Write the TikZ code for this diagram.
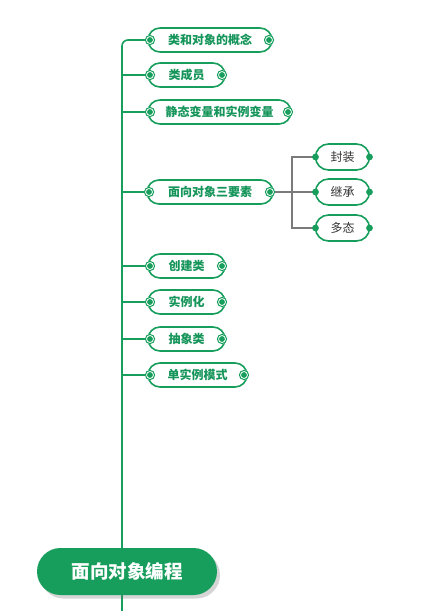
\documentclass[tikz,border=0pt]{standalone}
\usepackage{fontspec}
\setmainfont{Noto Sans CJK SC}
\usetikzlibrary{shapes.misc,backgrounds,shadows}
\definecolor{mg}{HTML}{179E5C}
\definecolor{mgt}{HTML}{15955A}
\definecolor{gl}{HTML}{7A7A7A}
\definecolor{tx}{HTML}{333333}
\tikzset{
  l1/.style={rounded rectangle, draw=mg, line width=1.6pt, fill=white, outer sep=0pt, inner sep=0pt,
    minimum height=24pt, font=\fontsize{12}{14}\selectfont\bfseries, text=mgt},
  l2/.style={rounded rectangle, draw=mg, line width=1.6pt, fill=white, outer sep=0pt, inner sep=0pt,
    minimum height=26pt, minimum width=54pt, font=\fontsize{12}{14}\selectfont, text=tx},
  rootbox/.style={rounded rectangle, fill=mg, outer sep=0pt, inner sep=0pt, minimum height=47pt,
    minimum width=180pt, font=\fontsize{18.5}{21}\selectfont\bfseries, text=white,
    drop shadow={shadow xshift=3pt, shadow yshift=-3.5pt, opacity=0.3, fill=black!55}},
  spine/.style={draw=mg, line width=1.6pt},
  branch/.style={draw=gl, line width=1.4pt},
}
\newcommand{\ringdot}[1]{\fill[white] ([xshift=#1]\ndname) circle (5.2pt); \draw[mg, line width=1pt] ([xshift=#1]\ndname) circle (4.6pt); \fill[mg] ([xshift=#1]\ndname) circle (2.9pt);}
\newcommand{\soliddot}[1]{\fill[mg] (#1) circle (3.4pt);}
\begin{document}
\begin{tikzpicture}[x=1pt,y=-1pt]
\useasboundingbox (0,0) rectangle (439,611);
\node[l1, minimum width=124pt] (n1) at (210,40) {类和对象的概念};
\node[l1, minimum width=77pt] (n2) at (186.5,75) {类成员};
\node[l1, minimum width=143pt] (n3) at (219.5,112) {静态变量和实例变量};
\node[l1, minimum width=126pt] (n4) at (210,192) {面向对象三要素};
\node[l1, minimum width=77pt] (n5) at (186.5,266) {创建类};
\node[l1, minimum width=77pt] (n6) at (186.5,302) {实例化};
\node[l1, minimum width=77pt] (n7) at (186.5,339) {抽象类};
\node[l1, minimum width=99pt] (n8) at (197.5,375) {单实例模式};
\node[l2] (m1) at (342.5,157) {封装};
\node[l2] (m2) at (342.5,192) {继承};
\node[l2] (m3) at (342.5,228) {多态};
\node[rootbox] (root) at (127,571.5) {面向对象编程};
\coordinate (sbot) at (122,611);
\coordinate (fork) at (292,192);
\begin{scope}[on background layer]
\draw[spine, rounded corners=6pt] (n1.west) -| (sbot);
\foreach \n in {n2,n3,n4,n5,n6,n7,n8} { \draw[spine] (\n.west) -- (\n.west -| sbot); }
\draw[branch] (n4.east) -- (fork);
\draw[branch] (m1.west) -| (fork);
\draw[branch] (m2.west) -- (fork);
\draw[branch] (m3.west) -| (fork);
\end{scope}
\foreach \n in {n1,n2,n3,n4,n5,n6,n7,n8} { \def\ndname{\n.west}\ringdot{2pt} \def\ndname{\n.east}\ringdot{-3pt} }
\foreach \n in {m1,m2,m3} { \soliddot{\n.west} \soliddot{\n.east} }
\end{tikzpicture}
\end{document}
